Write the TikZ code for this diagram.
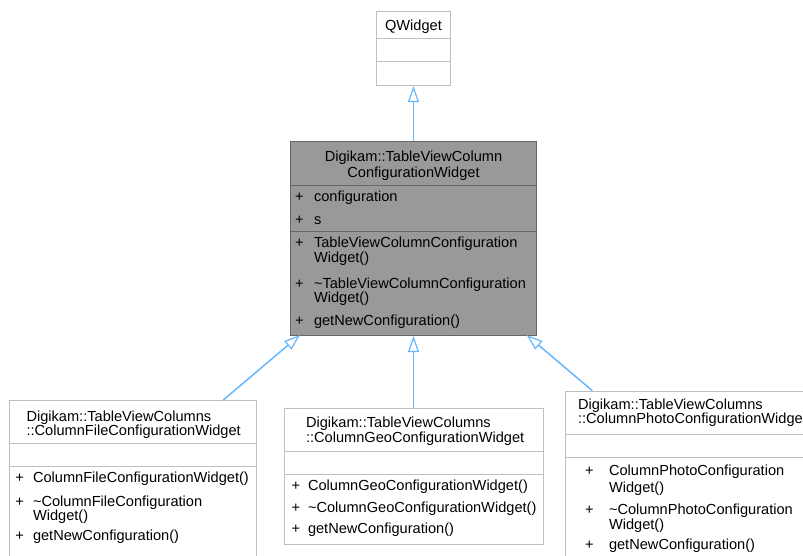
\documentclass[tikz,border=0pt]{standalone}
\usepackage{fontspec}
\setmainfont{Liberation Sans}
\usetikzlibrary{arrows.meta}
\definecolor{edgeblue}{HTML}{63B8FF}
\definecolor{boxline}{HTML}{BFBFBF}
\definecolor{mainfill}{HTML}{999999}
\definecolor{mainline}{HTML}{666666}
\tikzset{
  txt/.style={inner sep=0pt, outer sep=0pt, font=\fontsize{14.6}{17}\selectfont},
  lt/.style={txt, anchor=base west},
  ct/.style={txt, anchor=base},
  boxpart/.style={draw=boxline, line width=1pt, fill=white},
  mainpart/.style={draw=mainline, line width=1pt, fill=mainfill},
  inherit/.style={draw=edgeblue, line width=1.5pt, -{Triangle[open, length=16pt, width=11pt, fill=white, line width=1.2pt]}},
}
\begin{document}
\begin{tikzpicture}[x=1pt, y=-1pt]
\useasboundingbox (0,0) rectangle (803,555);

% QWidget
\draw[boxpart] (376.5,11.5) rectangle (450.5,85.5);
\draw[boxline, line width=1pt] (376.5,38.5) -- (450.5,38.5) (376.5,61.5) -- (450.5,61.5);
\node[ct] (qw) at (413.5,30.5) {QWidget};
\coordinate (qwb) at (413.5,86);

% Main
\draw[mainpart] (290.5,141.5) rectangle (536.5,335.5);
\draw[mainline, line width=1pt] (290.5,185.5) -- (536.5,185.5) (290.5,231.5) -- (536.5,231.5);
\node[ct] (m1) at (413.5,161) {Digikam::TableViewColumn};
\node[ct] (m2) at (413.5,177.5) {ConfigurationWidget};
\node[lt] (ma1p) at (295,201) {+};
\node[lt] (ma1) at (314,201) {configuration};
\node[lt] (ma2p) at (295,224) {+};
\node[lt] (ma2) at (314,224) {s};
\node[lt] (mm1p) at (295,247) {+};
\node[lt] (mm1) at (314,247) {TableViewColumnConfiguration};
\node[lt] (mm1b) at (314,262) {Widget()};
\node[lt] (mm2p) at (295,288) {+};
\node[lt] (mm2) at (314,288) {\char`\~TableViewColumnConfiguration};
\node[lt] (mm2b) at (314,302.5) {Widget()};
\node[lt] (mm3p) at (295,325.5) {+};
\node[lt] (mm3) at (314,325.5) {getNewConfiguration()};
\coordinate (mtop) at (413.5,141);
\coordinate (mbl) at (300,335);
\coordinate (mbc) at (413.5,336);
\coordinate (mbr) at (526.7,335);

% Left child
\draw[boxpart] (9.5,400.5) rectangle (256.5,560);
\draw[boxline, line width=1pt] (9.5,443.5) -- (256.5,443.5) (9.5,466.5) -- (256.5,466.5);
\node[lt] (l1) at (26.5,421) {Digikam::TableViewColumns};
\node[lt] (l2) at (26.5,435.5) {::ColumnFileConfigurationWidget};
\node[lt] (l3p) at (15.5,482) {+};
\node[lt] (l3) at (33,482) {ColumnFileConfigurationWidget()};
\node[lt] (l4p) at (15.5,506.5) {+};
\node[lt] (l4) at (33,506.5) {\char`\~ColumnFileConfiguration};
\node[lt] (l4b) at (33,520.5) {Widget()};
\node[lt] (l5p) at (15.5,540.5) {+};
\node[lt] (l5) at (33,540.5) {getNewConfiguration()};
\coordinate (ltop) at (223.3,400);

% Middle child
\draw[boxpart] (284.5,408.5) rectangle (543.5,544.5);
\draw[boxline, line width=1pt] (284.5,451.5) -- (543.5,451.5) (284.5,474.5) -- (543.5,474.5);
\node[lt] (c1) at (306,427) {Digikam::TableViewColumns};
\node[lt] (c2) at (306,442) {::ColumnGeoConfigurationWidget};
\node[lt] (c3p) at (291.5,490.5) {+};
\node[lt] (c3) at (308,490.5) {ColumnGeoConfigurationWidget()};
\node[lt] (c4p) at (291.5,512) {+};
\node[lt] (c4) at (308,512) {\char`\~ColumnGeoConfigurationWidget()};
\node[lt] (c5p) at (291.5,533.5) {+};
\node[lt] (c5) at (308,533.5) {getNewConfiguration()};
\coordinate (ctop) at (413.5,408);

% Right child
\begin{scope}
\clip (0,0) rectangle (803,555);
\draw[boxpart] (565.5,391.5) rectangle (830,560);
\draw[boxline, line width=1pt] (565.5,434.5) -- (830,434.5) (565.5,457.5) -- (830,457.5);
\node[lt] (r1) at (578,409) {Digikam::TableViewColumns};
\node[lt] (r2) at (578,423) {::ColumnPhotoConfigurationWidget};
\node[lt] (r3p) at (585,475.5) {+};
\node[lt] (r3) at (609,475.5) {ColumnPhotoConfiguration};
\node[lt] (r3b) at (609,492) {Widget()};
\node[lt] (r4p) at (585,514) {+};
\node[lt] (r4) at (609,514) {\char`\~ColumnPhotoConfiguration};
\node[lt] (r4b) at (609,529) {Widget()};
\node[lt] (r5p) at (585,549) {+};
\node[lt] (r5) at (609,549) {getNewConfiguration()};
\end{scope}
\coordinate (rtop) at (592.3,390.7);

% Inheritance edges
\draw[inherit] (mtop) -- (qwb);
\draw[inherit] (ltop) -- (mbl);
\draw[inherit] (ctop) -- (mbc);
\draw[inherit] (rtop) -- (mbr);
\end{tikzpicture}
\end{document}
